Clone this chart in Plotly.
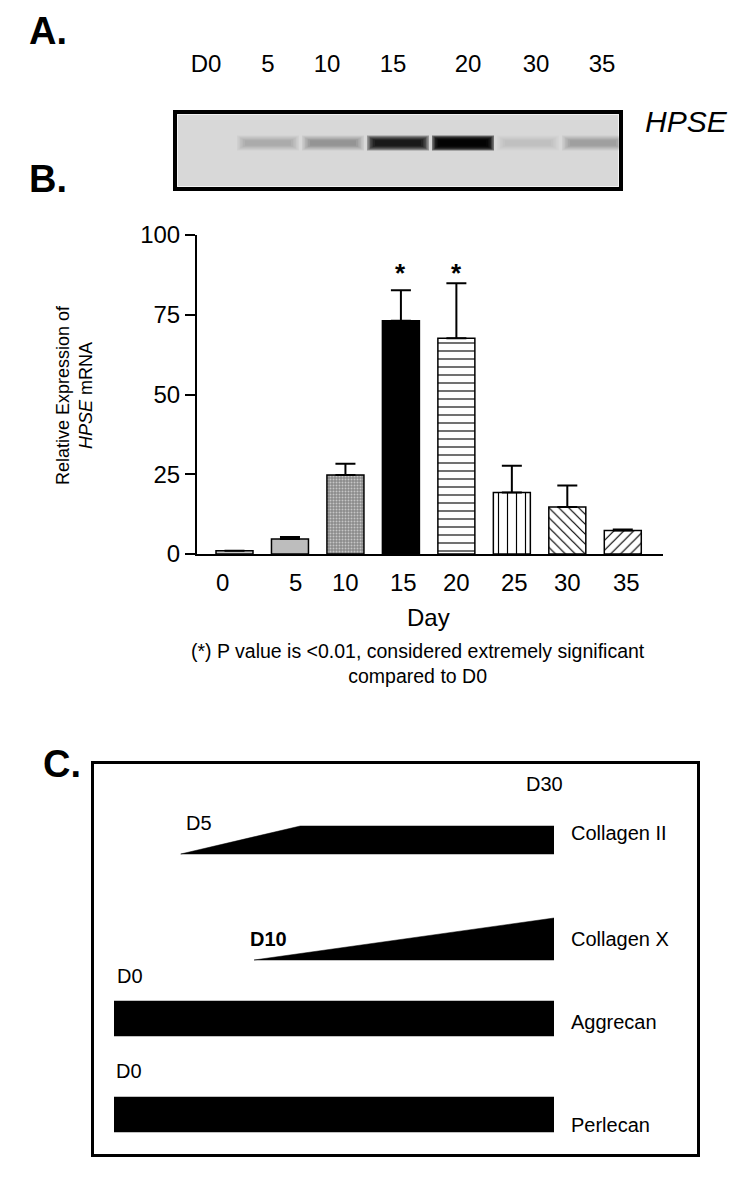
import plotly.graph_objects as go

W, H = 750, 1191
FONT = "Liberation Sans, Arial, Helvetica, sans-serif"

# ---------------- Panel A data (gel) ----------------
lane_labels = ["D0", "5", "10", "15", "20", "30", "35"]
band_darkness = [0.0, 0.2, 0.3, 0.88, 0.98, 0.1, 0.25]

# ---------------- Panel B data (bar chart) ----------------
days = ["0", "5", "10", "15", "20", "25", "30", "35"]
expression = [1.0, 4.7, 24.8, 73.1, 67.6, 19.3, 14.7, 7.4]
sem = [0.0, 0.6, 3.5, 9.6, 17.3, 8.4, 6.8, 0.3]
significant = [False, False, False, True, True, False, False, False]
y_ticks = [0, 25, 50, 75, 100]

# ---------------- Panel C data (expression timeline) ----------------
genes = ["Collagen II", "Collagen X", "Aggrecan", "Perlecan"]
onset_day = [4.55, 9.55, 0, 0]
plateau_day = [12.7, 30, 0, 0]
end_day = [30, 30, 30, 30]
onset_labels = ["D5", "D10", "D0", "D0"]
end_label = "D30"


def px(x):
    return x / W


def py(y):
    return 1 - y / H


fig = go.Figure()

# ---------------- Panel B bars (one trace per bar so each gets its own fill style) ----------------
bar_styles = [
    dict(color="#c8c8c8"),
    dict(color="#bdbdbd"),
    dict(color="#8e8e8e", pattern=dict(shape=".", size=3, solidity=0.35, fgcolor="#c6c6c6",
                                       bgcolor="#8a8a8a", fillmode="replace")),
    dict(color="#000000"),
    dict(color="#ffffff", pattern=dict(shape="-", size=8, solidity=0.14, fgcolor="#000000",
                                       bgcolor="#ffffff", fillmode="replace")),
    dict(color="#ffffff", pattern=dict(shape="|", size=9, solidity=0.13, fgcolor="#000000",
                                       bgcolor="#ffffff", fillmode="replace")),
    dict(color="#ffffff", pattern=dict(shape="\\", size=7, solidity=0.17, fgcolor="#000000",
                                       bgcolor="#ffffff", fillmode="replace")),
    dict(color="#ffffff", pattern=dict(shape="/", size=7, solidity=0.17, fgcolor="#000000",
                                       bgcolor="#ffffff", fillmode="replace")),
]
for d, v, e, st in zip(days, expression, sem, bar_styles):
    marker = dict(color=st["color"], line=dict(color="black", width=1.5))
    if "pattern" in st:
        marker["pattern"] = st["pattern"]
    fig.add_trace(go.Bar(
        x=[d], y=[v], width=0.667, marker=marker,
        error_y=dict(type="data", symmetric=False, array=[e], arrayminus=[0],
                     color="black", thickness=2, width=10),
        xaxis="x", yaxis="y", hoverinfo="skip",
    ))

annotations = []
# x tick labels (slight nudges as in the reference)
tick_nudge = [-0.21, 0.1, 0, 0.05, 0, 0.05, 0, 0.07]
for i, d in enumerate(days):
    annotations.append(dict(x=i + tick_nudge[i], y=py(583), xref="x", yref="paper",
                            text=d, showarrow=False, font=dict(size=24, color="black", family=FONT),
                            xanchor="center", yanchor="middle"))
# significance asterisks
for i, s in enumerate(significant):
    if s:
        annotations.append(dict(x=i, y=88, xref="x", yref="y", text="<b>*</b>", showarrow=False,
                                font=dict(size=26, color="black", family=FONT),
                                xanchor="center", yanchor="middle"))
# axis titles & footnote
annotations += [
    dict(x=px(428), y=py(617), xref="paper", yref="paper", text="Day", showarrow=False,
         xanchor="center", yanchor="middle", font=dict(size=24, color="black", family=FONT)),
    dict(x=px(74), y=py(395), xref="paper", yref="paper", textangle=-90,
         xanchor="center", yanchor="middle",
         text="Relative Expression of<br><i>HPSE</i> mRNA", showarrow=False,
         font=dict(size=18, color="black", family=FONT)),
    dict(x=px(418), y=py(664), xref="paper", yref="paper",
         xanchor="center", yanchor="middle",
         text="(*) P value is <0.01, considered extremely significant<br>compared to D0",
         showarrow=False, font=dict(size=19.5, color="black", family=FONT)),
]

# ---------------- Panel labels ----------------
for lab, (lx, ly) in zip(["A.", "B.", "C."], [(27, 31), (27, 179), (41, 764)]):
    annotations.append(dict(x=px(lx), y=py(ly), xref="paper", yref="paper", text="<b>%s</b>" % lab,
                            showarrow=False, xanchor="left", yanchor="middle",
                            font=dict(size=38, color="black", family=FONT)))

# ---------------- Panel A gel ----------------
lane_px = 65.0
label_nudge_px = [3, 0, -6, -5, 5, 8, 9]
fig.add_trace(go.Scatter(
    x=[i + label_nudge_px[i] / lane_px for i in range(len(lane_labels))],
    y=[66] * len(lane_labels), text=lane_labels,
    mode="text", textfont=dict(size=24, color="black", family=FONT),
    xaxis="x3", yaxis="y2", hoverinfo="skip",
))
annotations.append(dict(x=px(643), y=py(122), xref="paper", yref="paper", text="<i>HPSE</i>",
                        showarrow=False, xanchor="left", yanchor="middle",
                        font=dict(size=30, color="black", family=FONT)))

shapes = []
shapes.append(dict(type="rect", xref="paper", yref="paper", x0=px(175), x1=px(621), y0=py(189), y1=py(112),
                   line=dict(color="black", width=4), fillcolor="#d8d8d8"))
shapes.append(dict(type="rect", xref="paper", yref="paper", x0=px(177.5), x1=px(618.5), y0=py(186.5),
                   y1=py(114.5), line=dict(color="#f2f2f2", width=1), fillcolor="rgba(0,0,0,0)"))
band_y = 143
layers = [(31, 7.5), (29.5, 6.5), (28, 5.5), (26.5, 4.6), (25, 3.7), (23, 2.8)]
for i, d in enumerate(band_darkness):
    if d <= 0:
        continue
    a = 1 - (1 - d) ** (1.0 / len(layers))
    for hw, hh in layers:
        shapes.append(dict(type="rect", xref="x3", yref="paper",
                           x0=i - hw / lane_px, x1=i + hw / lane_px,
                           y0=py(band_y + hh), y1=py(band_y - hh),
                           line=dict(width=0), fillcolor="black", opacity=a))

# ---------------- Panel C ----------------
row_top = [826, 918, 1001, 1097]
row_bottom = [854, 960, 1036, 1132]
for g, o, p, e, t, b in zip(genes, onset_day, plateau_day, end_day, row_top, row_bottom):
    fig.add_trace(go.Scatter(
        x=[o, p, e, e, o], y=[b, t, t, b, b], mode="lines", fill="toself",
        fillcolor="black", line=dict(color="black", width=0.5),
        xaxis="x4", yaxis="y2", hoverinfo="skip",
    ))

shapes.append(dict(type="rect", xref="paper", yref="paper", x0=px(92.5), x1=px(698.5), y0=py(1155.5),
                   y1=py(762.5), line=dict(color="black", width=3), fillcolor="rgba(0,0,0,0)",
                   layer="below"))

onset_label_pos = [(184, 823), (248, 939), (115, 976), (114, 1071)]
for lab, (lx, ly) in zip(onset_labels, onset_label_pos):
    txt = "<b>%s</b>" % lab if lab == "D10" else lab
    annotations.append(dict(x=px(lx), y=py(ly), xref="paper", yref="paper", text=txt, showarrow=False,
                            xanchor="left", yanchor="middle",
                            font=dict(size=20, color="black", family=FONT)))
annotations.append(dict(x=px(524), y=py(784), xref="paper", yref="paper", text=end_label, showarrow=False,
                        xanchor="left", yanchor="middle", font=dict(size=20, color="black", family=FONT)))
gene_label_y = [833, 939, 1022, 1125]
for g, ly in zip(genes, gene_label_y):
    annotations.append(dict(x=px(569), y=py(ly), xref="paper", yref="paper", text=g, showarrow=False,
                            xanchor="left", yanchor="middle", font=dict(size=20, color="black", family=FONT)))

# ---------------- Layout ----------------
n = len(days)
fig.update_layout(
    template="none",
    width=W, height=H, margin=dict(l=0, r=0, t=0, b=0, pad=0, autoexpand=False),
    paper_bgcolor="white", plot_bgcolor="rgba(0,0,0,0)", showlegend=False,
    font=dict(family=FONT, color="black"),
    barmode="overlay",
    xaxis=dict(domain=[px(197), px(663)], type="category", categoryorder="array", categoryarray=days,
               range=[-0.676, n - 1 + 0.725], automargin=False,
               showline=True, linecolor="black", linewidth=2, ticks="", showticklabels=False,
               showgrid=False, zeroline=False, anchor="y", fixedrange=True),
    yaxis=dict(domain=[py(554), py(235)], range=[0, 100], tickvals=y_ticks, automargin=False,
               ticks="outside", ticklen=10, tickwidth=2, tickcolor="black",
               showline=True, linecolor="black", linewidth=2, showgrid=False, zeroline=False,
               tickfont=dict(size=24, color="black", family=FONT), anchor="x", fixedrange=True),
    xaxis3=dict(domain=[px(173), px(623)], range=[-30 / 65.0, 6 + 30 / 65.0], visible=False,
                automargin=False, anchor="y2", fixedrange=True),
    xaxis4=dict(domain=[px(114), px(554)], range=[0, 30], visible=False, automargin=False,
                anchor="y2", fixedrange=True),
    yaxis2=dict(domain=[0, 1], range=[H, 0], visible=False, automargin=False, anchor="x4",
                fixedrange=True),
    annotations=annotations,
    shapes=shapes,
)

fig.write_html("out.html", config={"displayModeBar": False},
               post_script="document.body.style.margin='0px';document.body.style.overflow='hidden';")
